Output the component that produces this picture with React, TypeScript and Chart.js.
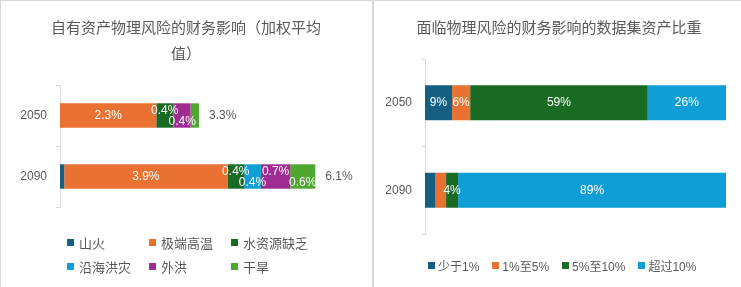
import React, { useEffect, useRef } from "react";
import { Chart, registerables } from "chart.js";

Chart.register(...registerables);

// ---------- data ----------
const years = ["2050", "2090"];

const hazardNames = ["山火", "极端高温", "水资源缺乏", "沿海洪灾", "外洪", "干旱"];
const wildfire = [0, 0.1];
const extremeHeat = [2.3, 3.9];
const waterStress = [0.4, 0.4];
const coastalFlood = [0.02, 0.4];
const riverineFlood = [0.4, 0.7];
const drought = [0.2, 0.6];

const bandNames = ["少于1%", "1%至5%", "5%至10%", "超过10%"];
const below1 = [9, 3.5];
const from1to5 = [6, 3.5];
const from5to10 = [59, 4];
const over10 = [26, 89];

const leftTitle = ["自有资产物理风险的财务影响（加权平均", "值）"];
const rightTitle = "面临物理风险的财务影响的数据集资产比重";

const palette = ["#156082", "#E97132", "#196B24", "#0F9ED5", "#A02B93", "#4EA72E"];
const GRAY = "#595959";
const LINE = "#d9d9d9";
const FONT = '"Liberation Sans", "Noto Sans CJK SC", sans-serif';
const CJK = '"Noto Sans CJK SC", "Liberation Sans", sans-serif';

type LabelCfg = {
  fmt: (v: number) => string;
  minVal: number;
  narrow: number;
  total: boolean;
};

function makeLabelPlugin(cfg: LabelCfg) {
  return {
    id: "segLabels",
    afterDatasetsDraw(chart: any) {
      const ctx = chart.ctx;
      ctx.save();
      ctx.font = `12px ${FONT}`;
      ctx.textBaseline = "middle";
      const n = chart.data.labels.length;
      for (let i = 0; i < n; i++) {
        let alt = 0;
        let end = -Infinity;
        let y = 0;
        let sum = 0;
        chart.data.datasets.forEach((ds: any, di: number) => {
          const bar: any = chart.getDatasetMeta(di).data[i];
          const v = ds.data[i] as number;
          sum += v;
          end = Math.max(end, bar.x);
          y = bar.y;
          if (v < cfg.minVal) return;
          const w = Math.abs(bar.x - bar.base);
          let dy = 0;
          if (cfg.narrow && w < cfg.narrow) {
            dy = alt % 2 === 0 ? -5 : 6;
            alt++;
          }
          ctx.fillStyle = "#ffffff";
          ctx.textAlign = "center";
          ctx.fillText(cfg.fmt(v), (bar.x + bar.base) / 2, y + dy);
        });
        if (cfg.total) {
          ctx.fillStyle = GRAY;
          ctx.textAlign = "left";
          ctx.fillText(cfg.fmt(sum), end + 10, y);
        }
      }
      ctx.restore();
    },
  };
}

type PanelProps = {
  width: number;
  height: number;
  series: number[][];
  names: string[];
  max: number;
  axisWidth: number;
  padding: { top: number; bottom: number; left: number; right: number };
  label: LabelCfg;
};

function BarCanvas(p: PanelProps) {
  const ref = useRef<HTMLCanvasElement | null>(null);
  useEffect(() => {
    if (!ref.current) return;
    const chart = new Chart(ref.current, {
      type: "bar",
      data: {
        labels: years,
        datasets: p.series.map((d, i) => ({
          label: p.names[i],
          data: d,
          backgroundColor: palette[i],
          borderWidth: 0,
          barPercentage: 0.4,
          categoryPercentage: 1,
        })),
      },
      options: {
        indexAxis: "y",
        animation: false,
        responsive: false,
        maintainAspectRatio: false,
        layout: { padding: p.padding },
        plugins: {
          legend: { display: false },
          title: { display: false },
          tooltip: { enabled: false },
        },
        scales: {
          x: { stacked: true, min: 0, max: p.max, display: false },
          y: {
            stacked: true,
            grid: {
              display: true,
              drawOnChartArea: false,
              drawTicks: true,
              tickLength: 4,
              color: LINE,
              offset: true,
            },
            border: { display: true, color: LINE, width: 1 },
            ticks: { color: GRAY, font: { size: 12, family: FONT }, padding: 9 },
            afterFit: (s: any) => {
              s.width = p.axisWidth;
            },
          },
        },
      } as any,
      plugins: [makeLabelPlugin(p.label)],
    });
    return () => chart.destroy();
  }, []);
  return (
    <canvas
      ref={ref}
      width={p.width}
      height={p.height}
      style={{ width: p.width, height: p.height, display: "block" }}
    />
  );
}

function Swatch({ color }: { color: string }) {
  return (
    <span
      style={{
        display: "inline-block",
        width: 7,
        height: 7,
        background: color,
        flex: "0 0 7px",
      }}
    />
  );
}

export default function App() {
  useEffect(() => {
    document.body.style.margin = "0";
  }, []);

  return (
    <div
      style={{
        position: "absolute",
        left: 0,
        top: 0,
        width: 741,
        height: 287,
        background: "#fff",
        overflow: "hidden",
      }}
    >
      {/* left panel frame */}
      <div
        style={{
          position: "absolute",
          left: 0,
          top: 0,
          width: 373,
          height: 300,
          boxSizing: "border-box",
          borderLeft: `1px solid ${LINE}`,
          borderTop: `1px solid ${LINE}`,
          borderRight: `1px solid ${LINE}`,
        }}
      />
      {/* right panel frame */}
      <div
        style={{
          position: "absolute",
          left: 373,
          top: 0,
          width: 380,
          height: 300,
          boxSizing: "border-box",
          borderLeft: `1px solid ${LINE}`,
          borderTop: `1px solid ${LINE}`,
        }}
      />

      {/* left chart */}
      <div style={{ position: "absolute", left: 1, top: 1 }}>
        <BarCanvas
          width={371}
          height={286}
          series={[wildfire, extremeHeat, waterStress, coastalFlood, riverineFlood, drought]}
          names={hazardNames}
          max={7}
          axisWidth={59}
          padding={{ top: 84, bottom: 80, left: 0, right: 19 }}
          label={{ fmt: (v) => v.toFixed(1) + "%", minVal: 0.3, narrow: 35, total: true }}
        />
      </div>
      <div
        style={{
          position: "absolute",
          left: 0,
          top: 14,
          width: 372,
          textAlign: "center",
          font: `15px ${CJK}`,
          lineHeight: "26px",
          color: GRAY,
        }}
      >
        {leftTitle[0]}
        <br />
        {leftTitle[1]}
      </div>
      <div
        style={{
          position: "absolute",
          left: 67,
          top: 230,
          display: "grid",
          gridTemplateColumns: "82px 82px 82px",
          gridAutoRows: "24px",
          font: `13px ${FONT}`,
          color: GRAY,
        }}
      >
        {hazardNames.map((n, i) => (
          <div key={n} style={{ display: "flex", alignItems: "center", whiteSpace: "nowrap" }}>
            <Swatch color={palette[i]} />
            <span style={{ marginLeft: 5 }}>{n}</span>
          </div>
        ))}
      </div>

      {/* right chart */}
      <div style={{ position: "absolute", left: 374, top: 1 }}>
        <BarCanvas
          width={367}
          height={286}
          series={[below1, from1to5, from5to10, over10]}
          names={bandNames}
          max={100}
          axisWidth={51}
          padding={{ top: 58, bottom: 53, left: 0, right: 15 }}
          label={{ fmt: (v) => Math.round(v) + "%", minVal: 4, narrow: 0, total: false }}
        />
      </div>
      <div
        style={{
          position: "absolute",
          left: 375,
          top: 14,
          width: 368,
          textAlign: "center",
          font: `15px ${CJK}`,
          lineHeight: "26px",
          color: GRAY,
          whiteSpace: "nowrap",
        }}
      >
        {rightTitle}
      </div>
      <div
        style={{
          position: "absolute",
          left: 428,
          top: 255,
          height: 20,
          display: "flex",
          alignItems: "center",
          font: `12px ${FONT}`,
          color: GRAY,
          whiteSpace: "nowrap",
        }}
      >
        {bandNames.map((n, i) => (
          <div key={n} style={{ display: "flex", alignItems: "center", marginRight: 13 }}>
            <Swatch color={palette[i]} />
            <span style={{ marginLeft: 3 }}>{n}</span>
          </div>
        ))}
      </div>
    </div>
  );
}
